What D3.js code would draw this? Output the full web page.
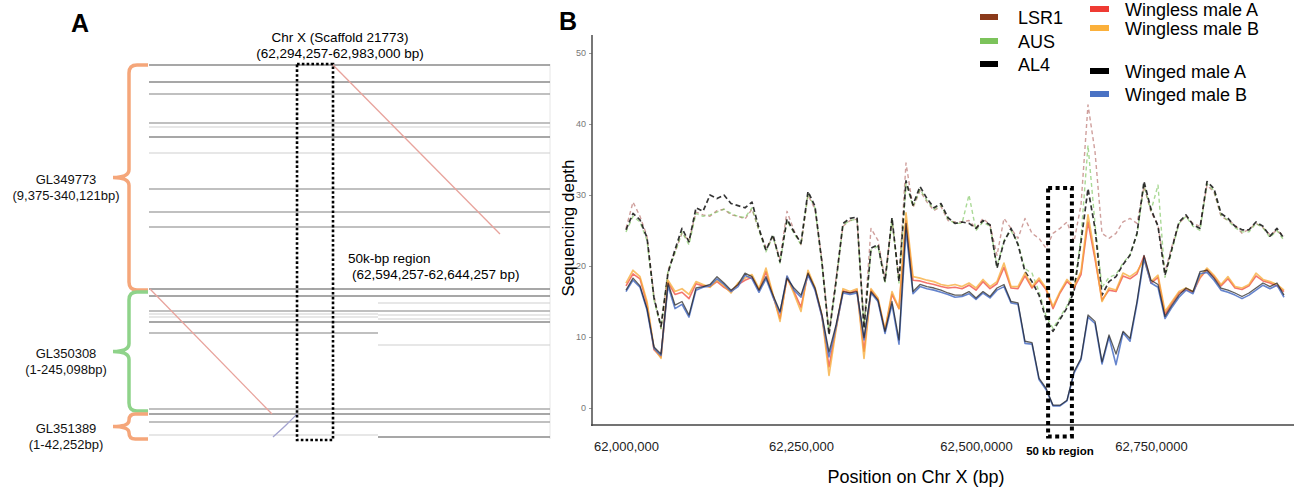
<!DOCTYPE html>
<html>
<head>
<meta charset="utf-8">
<script src="https://cdn.jsdelivr.net/npm/d3@7"></script>
<style>
body{margin:0;background:#fff;}
text{font-family:"Liberation Sans",Arial,sans-serif;}
</style>
</head>
<body>
<script>
//---- panel B : sequencing depth in 10 kb windows ----
var windowStart = 62000000, windowSize = 10000;

var wingedA = [16.6,18.3,17.2,14.0,8.6,7.6,17.6,14.5,15.0,13.1,
16.9,17.1,17.4,18.5,17.6,16.6,17.4,19.0,18.5,16.6,
18.5,15.9,13.6,18.3,16.9,15.9,19.0,16.9,13.1,7.9,
11.7,16.4,16.2,16.4,9.9,16.4,15.2,10.8,15.0,9.6,
26.0,16.4,17.4,17.1,16.9,16.6,16.2,15.9,15.9,16.4,
15.5,16.4,15.7,16.9,17.4,15.0,14.8,9.4,9.2,4.2,
2.8,0.4,0.4,1.1,5.1,7.0,13.1,12.2,6.5,10.3,
7.6,10.8,9.8,15.0,21.5,18.0,17.4,12.9,14.5,15.9,
16.9,16.4,19.2,19.4,18.3,16.9,16.6,16.2,15.7,16.2,
16.9,17.6,17.1,17.6,15.9];

var wingedB = [16.4,18.0,17.0,13.8,8.4,7.4,17.2,14.0,14.6,12.8,
16.6,17.0,17.2,18.2,17.4,16.4,17.1,18.7,18.2,16.3,
18.2,15.6,13.4,18.6,16.6,15.6,18.7,16.6,12.8,7.2,
11.4,16.2,16.0,16.2,9.6,16.2,15.0,10.5,14.6,9.0,
25.0,16.1,17.1,16.8,16.6,16.3,16.0,15.6,15.7,16.1,
15.3,16.2,15.5,16.6,17.1,14.8,14.6,9.1,9.0,4.0,
2.6,0.3,0.3,1.0,4.9,6.8,12.8,11.9,6.2,10.0,
6.1,10.6,9.4,14.7,21.0,17.6,17.0,12.6,14.2,15.6,
16.6,16.1,18.9,19.1,18.0,16.6,16.3,15.9,15.4,15.9,
16.6,17.3,16.8,17.3,15.6];

var winglessA = [17.2,18.9,18.2,14.6,8.2,7.2,17.7,16.0,16.3,15.4,
17.5,17.2,17.1,17.8,17.0,16.4,17.4,18.0,18.4,16.6,
19.2,15.8,12.6,18.3,16.4,14.2,19.0,16.8,12.9,5.8,
11.2,16.5,16.2,16.6,8.0,16.6,15.3,10.9,16.0,14.0,
26.4,18.0,17.9,17.6,17.4,17.1,16.9,17.0,16.8,17.3,
16.6,17.8,16.8,17.5,19.8,16.9,16.8,18.6,16.9,18.0,
16.7,14.0,16.2,17.8,16.9,18.8,26.2,21.0,15.2,16.6,
16.4,18.6,18.2,18.9,21.4,17.6,18.4,13.2,14.8,16.2,
16.7,16.3,18.3,19.5,18.5,17.2,18.2,16.9,16.7,17.2,
18.6,17.9,17.6,17.2,16.4];

var winglessB = [17.6,19.4,18.5,15.0,8.4,7.0,18.0,16.4,16.8,16.0,
17.8,17.4,17.0,18.0,17.2,16.2,17.6,18.3,18.8,16.8,
19.7,16.0,12.2,18.5,16.1,13.6,19.4,17.0,13.0,4.6,
11.0,16.8,16.4,16.8,7.0,16.8,15.5,11.0,16.4,14.0,
27.5,18.5,18.3,18.0,17.8,17.4,17.2,17.4,17.1,17.6,
16.9,18.1,17.1,17.8,20.4,17.1,17.1,19.0,17.1,18.3,
16.9,14.3,16.4,18.1,17.1,19.2,27.2,21.5,15.0,16.9,
16.6,19.0,18.5,19.2,20.9,17.8,18.7,13.6,15.0,16.4,
16.9,16.4,18.5,19.7,18.7,17.4,18.5,17.1,16.9,17.4,
19.0,18.1,17.8,17.4,16.6];

var al4 = [25.1,27.4,26.5,24.0,15.5,11.5,19.0,22.3,25.3,23.4,
28.2,27.7,30.0,29.5,30.0,28.8,28.5,28.2,29.0,25.3,
22.2,24.4,20.6,26.6,24.8,23.2,30.5,28.4,20.4,10.3,
17.8,26.0,26.7,26.9,11.2,22.5,23.0,17.8,26.8,17.8,
32.0,28.6,31.2,29.5,28.2,28.8,26.8,26.0,26.2,26.0,
25.3,26.4,25.8,19.7,23.4,25.3,23.0,19.2,17.8,15.9,
12.5,10.8,12.5,14.1,16.4,23.4,30.9,25.3,15.9,17.8,
18.5,20.2,21.5,24.6,31.9,28.0,25.6,18.7,22.5,26.2,
27.2,25.8,25.3,31.9,30.9,27.4,26.7,25.6,25.1,25.1,
26.2,25.6,24.2,25.3,23.9];

var lsr1 = [25.3,29.0,27.0,24.2,15.8,11.2,19.4,22.0,24.6,23.6,
27.6,27.2,27.0,27.8,28.0,27.2,27.0,26.6,28.0,25.0,
22.6,24.0,21.0,27.7,25.0,23.0,30.0,28.0,20.8,10.6,
18.2,25.6,26.4,26.6,11.6,25.3,23.6,18.2,26.4,18.2,
34.5,28.2,30.6,29.0,27.8,28.4,26.4,26.2,26.2,26.4,
25.3,26.7,25.8,21.5,26.7,25.3,23.9,26.7,24.6,23.9,
22.5,24.6,25.3,26.2,23.4,28.6,42.7,36.1,24.6,23.9,
24.6,26.2,26.7,26.0,31.2,27.6,25.8,19.2,22.8,26.0,
27.0,26.0,25.6,31.4,30.4,27.0,26.4,25.8,24.6,25.2,
26.0,25.4,24.4,25.0,24.2];

var aus = [24.8,27.0,26.2,23.6,15.2,11.2,19.2,21.8,24.8,23.0,
27.4,27.0,27.2,27.6,28.0,27.4,27.0,26.8,28.2,25.0,
22.0,24.2,20.4,26.4,24.6,23.0,30.2,28.2,20.2,10.6,
17.6,25.8,26.4,26.6,11.4,22.2,22.8,17.6,26.6,17.6,
31.6,28.4,30.8,29.2,28.0,28.6,26.6,26.0,26.0,30.0,
25.0,26.2,25.6,20.0,23.6,25.0,23.2,19.6,19.0,16.4,
13.0,11.2,12.8,14.4,16.8,24.0,37.0,26.0,17.0,18.4,
18.8,20.4,21.6,24.4,31.4,27.8,31.4,18.4,22.2,26.0,
27.0,25.6,25.0,31.6,30.6,27.2,26.4,25.4,24.8,24.8,
26.0,25.4,24.0,25.0,23.6];

var femaleNames = ["LSR1", "AUS", "AL4"];
var maleNames = ["Wingless male A", "Wingless male B", "Winged male A", "Winged male B"];
var xTickValues = [62000000, 62250000, 62500000, 62750000];
var xTickLabels = ["62,000,000", "62,250,000", "62,500,0000", "62,750,0000"];
var yTickValues = [0, 10, 20, 30, 40, 50];
var region50kb = [62603000, 62637000];

//---- panel A : scaffold alignment to Chr X ----
var chrRange = [62294257, 62983000];
var scaffolds = ["GL349773", "GL350308", "GL351389"];
var scaffoldSpans = ["(9,375-340,121bp)", "(1-245,098bp)", "(1-42,252bp)"];
var scaffoldRows = [[0, 226], [227, 347], [349, 375]];
var trackRows = [1,18,30,59,63,73,89,125,148,163, 225,232,247,258, 345,350,358];
var trackWeight = [3,3,2,2,1,3,1,2,2,2, 3,3,2,3, 2,3,2];
var leftRows = [250, 253, 269, 371];
var leftWeight = [1, 1, 2, 1];
var rightRows = [239, 251, 255, 281, 373];
var rightWeight = [1, 1, 1, 1, 3];
var splitPos = 62687600;
var boxA = [62548500, 62610300];

window.onload = function(){
    var w = 1294, h = 490;
    var svg = d3.select("body").append("svg")
        .attr("width", w).attr("height", h)
        .style("display", "block")
        .style("background", "#fff");

//================ panel A ================
    var xA = d3.scaleLinear().domain(chrRange).range([149, 550]);
    var yA = d3.scaleLinear().domain([0, 375]).range([64, 439]);
    var shade = d3.scaleOrdinal().domain([1, 2, 3]).range(["#cfcfcf", "#ababab", "#8a8a8a"]);
    var thick = d3.scaleOrdinal().domain([1, 2, 3]).range([1.1, 1.3, 1.7]);

    var gA = svg.append("g").attr("class", "panelA");

    gA.append("line")
        .attr("x1", xA(chrRange[1])).attr("x2", xA(chrRange[1]))
        .attr("y1", yA(0)).attr("y2", yA(375))
        .style("stroke", "#e6e6e6").style("stroke-width", 1);

    function tracks(rows, weights, from, to){
        gA.selectAll(null).data(rows).enter().append("line")
            .attr("x1", xA(from)).attr("x2", xA(to))
            .attr("y1", function(d){ return yA(d); })
            .attr("y2", function(d){ return yA(d); })
            .style("stroke", function(d, i){ return shade(weights[i]); })
            .style("stroke-width", function(d, i){ return thick(weights[i]); });
    }
    tracks(trackRows, trackWeight, chrRange[0], chrRange[1]);
    tracks(leftRows, leftWeight, chrRange[0], splitPos);
    tracks(rightRows, rightWeight, splitPos, chrRange[1]);

//alignments
    var aligned = [
        {from: [62610300, 1], to: [62897100, 170], c: "#e8a39c"},
        {from: [62296000, 225], to: [62505500, 350], c: "#e8a39c"}
    ];
    gA.selectAll(".aln").data(aligned).enter().append("line")
        .attr("class", "aln")
        .attr("x1", function(d){ return xA(d.from[0]); })
        .attr("y1", function(d){ return yA(d.from[1]); })
        .attr("x2", function(d){ return xA(d.to[0]); })
        .attr("y2", function(d){ return yA(d.to[1]); })
        .style("stroke", function(d){ return d.c; })
        .style("stroke-width", 1.3);
    var inv = [[62507200, 373], [62530000, 361], [62548500, 350]];
    gA.append("path")
        .attr("d", d3.line().curve(d3.curveBasis)
            .x(function(d){ return xA(d[0]); })
            .y(function(d){ return yA(d[1]); })(inv))
        .style("fill", "none").style("stroke", "#a3a3d0").style("stroke-width", 1.3);

//dotted box
    gA.append("rect")
        .attr("x", xA(boxA[0])).attr("y", yA(0))
        .attr("width", xA(boxA[1]) - xA(boxA[0]))
        .attr("height", yA(376) - yA(0))
        .style("fill", "none").style("stroke", "#000")
        .style("stroke-width", 2.6).style("stroke-dasharray", "2.6,2.2");

//brackets
    var bracketColor = ["#f5a67a", "#8fd38a", "#f5a67a"];
    gA.selectAll(".brace").data(scaffoldRows).enter().append("path")
        .attr("class", "brace")
        .attr("d", function(d){
            var y0 = yA(d[0]) + 1, y1 = yA(d[1]), ym = (y0 + y1) / 2, xb = 129;
            var r = Math.min(8, (y1 - y0) / 4);
            return "M148," + y0 + " L" + (xb + r) + "," + y0 +
                " Q" + xb + "," + y0 + " " + xb + "," + (y0 + r) +
                " L" + xb + "," + (ym - r) +
                " Q" + xb + "," + ym + " " + (xb - 16) + "," + ym +
                " Q" + xb + "," + ym + " " + xb + "," + (ym + r) +
                " L" + xb + "," + (y1 - r) +
                " Q" + xb + "," + y1 + " " + (xb + r) + "," + y1 +
                " L148," + y1;
        })
        .style("fill", "none")
        .style("stroke", function(d, i){ return bracketColor[i]; })
        .style("stroke-width", 3.5);

    var labels = gA.selectAll(".glab").data(scaffolds).enter().append("text")
        .attr("class", "glab")
        .attr("text-anchor", "middle")
        .attr("y", function(d, i){ return (yA(scaffoldRows[i][0]) + yA(scaffoldRows[i][1])) / 2 + 7; })
        .style("font-size", "13px").style("fill", "#111");
    labels.append("tspan").attr("x", 66).text(function(d){ return d; });
    labels.append("tspan").attr("x", 66).attr("dy", 16)
        .text(function(d, i){ return scaffoldSpans[i]; });

    gA.append("text").attr("x", 80).attr("y", 32)
        .attr("text-anchor", "middle")
        .style("font-size", "25px").style("font-weight", "bold").text("A");
    gA.append("text").attr("x", 340).attr("y", 42)
        .attr("text-anchor", "middle").style("font-size", "13.5px")
        .text("Chr X (Scaffold 21773)");
    gA.append("text").attr("x", 340).attr("y", 58)
        .attr("text-anchor", "middle").style("font-size", "13.5px")
        .text("(62,294,257-62,983,000 bp)");
    gA.append("text").attr("x", 348).attr("y", 263)
        .style("font-size", "13.5px").text("50k-bp region");
    gA.append("text").attr("x", 352).attr("y", 279)
        .style("font-size", "13.5px").text("(62,594,257-62,644,257 bp)");

//================ panel B ================
    var x = d3.scaleLinear().domain([62000000, 62750000]).range([626, 1151]);
    var y = d3.scaleLinear().domain([0, 50]).range([408, 53]);
    var gB = svg.append("g").attr("class", "panelB");

    var series = [
        {name: "LSR1", v: lsr1, c: "#a8504a", o: 0.55, dash: "4,3", wd: 1.4},
        {name: "AUS", v: aus, c: "#6fbf4f", o: 0.6, dash: "4,3", wd: 1.4},
        {name: "AL4", v: al4, c: "#111", o: 0.85, dash: "5,3", wd: 1.7},
        {name: "Wingless male A", v: winglessA, c: "#ee3a30", o: 0.7, dash: null, wd: 1.6},
        {name: "Wingless male B", v: winglessB, c: "#f7a934", o: 0.75, dash: null, wd: 1.7},
        {name: "Winged male B", v: wingedB, c: "#4a6fc4", o: 0.85, dash: null, wd: 1.6},
        {name: "Winged male A", v: wingedA, c: "#1a1a1a", o: 0.7, dash: null, wd: 1.3}
    ];
    var line = d3.line()
        .x(function(d, i){ return x(windowStart + i * windowSize); })
        .y(function(d){ return y(d); });

    gB.selectAll(".series").data(series).enter().append("path")
        .attr("class", "series")
        .attr("d", function(d){ return line(d.v); })
        .style("fill", "none")
        .style("stroke", function(d){ return d.c; })
        .style("stroke-opacity", function(d){ return d.o; })
        .style("stroke-width", function(d){ return d.wd; })
        .style("stroke-dasharray", function(d){ return d.dash; })
        .style("stroke-linejoin", "round");

//axes
    var yAxis = d3.axisLeft(y).tickValues(yTickValues).tickSize(3).tickSizeOuter(0).tickPadding(3);
    var ya = gB.append("g").attr("transform", "translate(592,0)").call(yAxis);
    ya.select(".domain").remove();
    ya.selectAll(".tick line").style("stroke", "#999");
    ya.selectAll("text").style("font-size", "9px").style("fill", "#777");

    var xAxis = d3.axisBottom(x).tickValues(xTickValues)
        .tickFormat(function(d, i){ return xTickLabels[i]; })
        .tickSize(0).tickPadding(17);
    var xa = gB.append("g").attr("transform", "translate(0,425)").call(xAxis);
    xa.select(".domain").remove();
    xa.selectAll("text")
        .style("font-family", "'Liberation Sans Narrow','Arial Narrow',sans-serif")
        .style("font-size", "13px").style("fill", "#222");

    gB.append("line").attr("x1", 592).attr("x2", 592).attr("y1", 35).attr("y2", 426)
        .style("stroke", "#555").style("stroke-width", 1.6);
    gB.append("line").attr("x1", 591).attr("x2", 1294).attr("y1", 425).attr("y2", 425)
        .style("stroke", "#444").style("stroke-width", 1.6);

//50 kb box
    gB.append("rect")
        .attr("x", x(region50kb[0])).attr("y", y(31))
        .attr("width", x(region50kb[1]) - x(region50kb[0]))
        .attr("height", y(-4) - y(31))
        .style("fill", "none").style("stroke", "#000")
        .style("stroke-width", 4).style("stroke-dasharray", "4,3.5");
    gB.append("text")
        .attr("x", x((region50kb[0] + region50kb[1]) / 2)).attr("y", 455)
        .attr("text-anchor", "middle")
        .style("font-size", "11.5px").style("font-weight", "bold")
        .text("50 kb region");

    gB.append("text")
        .attr("transform", "translate(574,228) rotate(-90)")
        .attr("text-anchor", "middle").style("font-size", "17px")
        .text("Sequencing depth");
    gB.append("text").attr("x", 916).attr("y", 483)
        .attr("text-anchor", "middle").style("font-size", "18px")
        .text("Position on Chr X (bp)");
    gB.append("text").attr("x", 559).attr("y", 30)
        .style("font-size", "25px").style("font-weight", "bold").text("B");

//legend
    var femaleColor = ["#8b3a1a", "#7cc35b", "#000"];
    var maleColor = ["#ef3b33", "#fbb03b", "#000", "#4a72c4"];
    var femaleY = [17, 41, 64];
    var maleY = [9, 28, 71, 94];

    var lf = gB.selectAll(".lf").data(femaleNames).enter().append("g")
        .attr("class", "lf")
        .attr("transform", function(d, i){ return "translate(980," + femaleY[i] + ")"; });
    lf.append("rect").attr("x", 0).attr("y", -3).attr("width", 18).attr("height", 6)
        .style("fill", function(d, i){ return femaleColor[i]; });
    lf.append("text").attr("x", 38).attr("y", 6.5)
        .style("font-size", "18px").text(function(d){ return d; });

    var lm = gB.selectAll(".lm").data(maleNames).enter().append("g")
        .attr("class", "lm")
        .attr("transform", function(d, i){ return "translate(1090," + maleY[i] + ")"; });
    lm.append("rect").attr("x", 0).attr("y", -3).attr("width", 19).attr("height", 6)
        .style("fill", function(d, i){ return maleColor[i]; });
    lm.append("text").attr("x", 35).attr("y", 6.5)
        .style("font-size", "18px").text(function(d){ return d; });
};
</script>
</body>
</html>
